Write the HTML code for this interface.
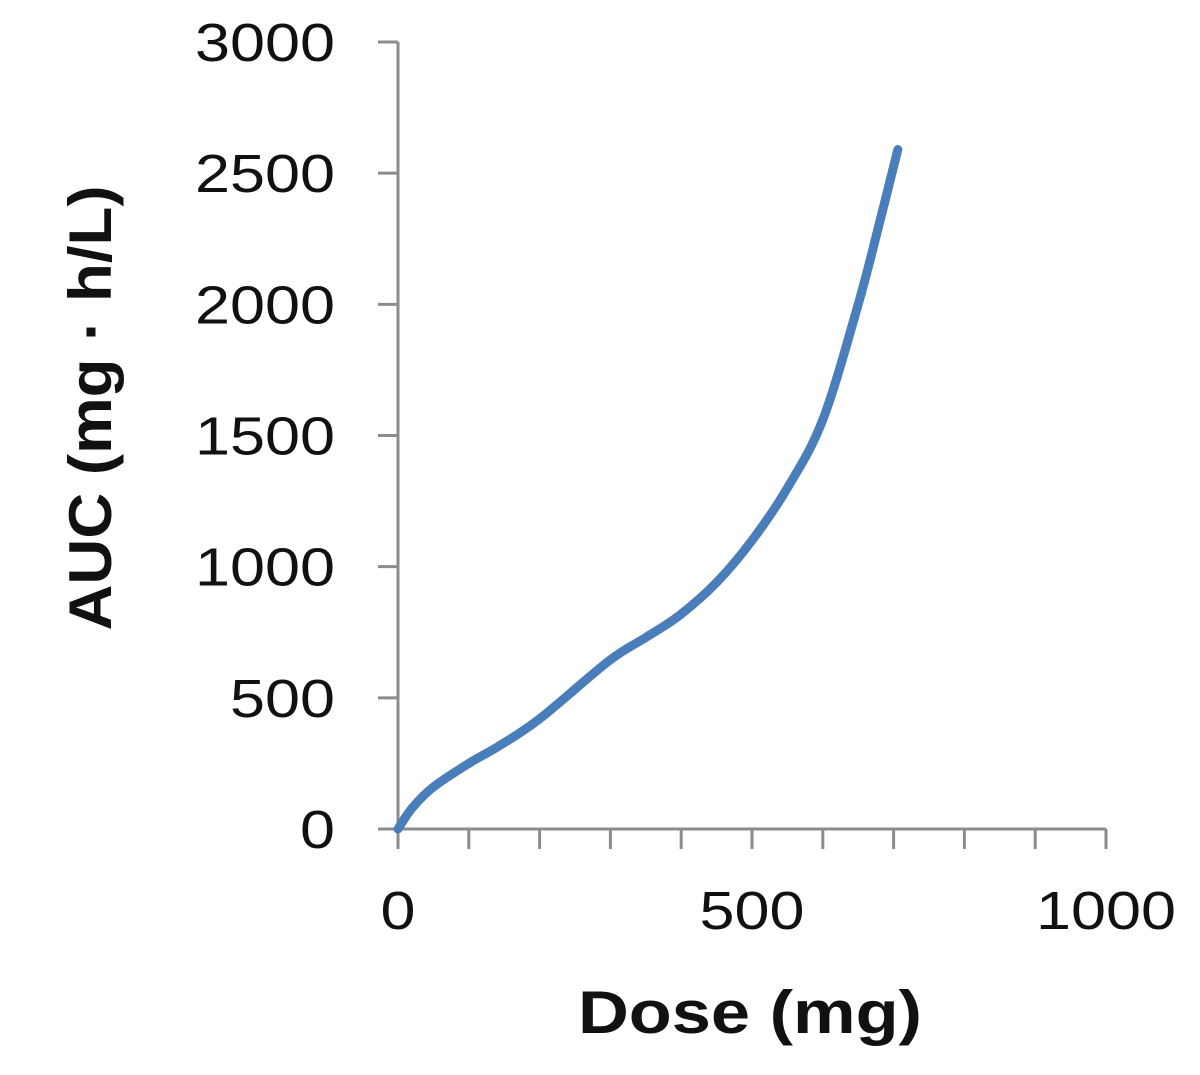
<!DOCTYPE html>
<html><head><meta charset="utf-8"><style>
body{margin:0;background:#fff;}
svg{display:block;}
text{font-family:"Liberation Sans",sans-serif;fill:#111;}
</style></head><body>
<svg id="chart" width="1200" height="1075">
<g id="axes"></g>
<g id="series"></g>
<text x="750" y="1033" text-anchor="middle" font-size="60" font-weight="bold" textLength="344" lengthAdjust="spacingAndGlyphs">Dose (mg)</text>
<text transform="translate(111,408) rotate(-90)" text-anchor="middle" font-size="60" font-weight="bold" textLength="445" lengthAdjust="spacingAndGlyphs">AUC (mg · h/L)</text>
</svg>
<script>
const doses=[0,20,50,100,143,200,298,350,397,450,500,550,600,650,680,706];
const aucs=[0,80,160,250,317,420,641,730,813,940,1100,1300,1560,2000,2310,2590];
const xTicks=[0,500,1000];
const yTicks=[0,500,1000,1500,2000,2500,3000];
const X0=398,X1=1106,Y0=829,Y1=42;
const xs=d=>X0+(d/1000)*(X1-X0);
const ys=v=>Y0-(v/3000)*(Y0-Y1);
const NS="http://www.w3.org/2000/svg";
const axes=document.getElementById('axes'),series=document.getElementById('series');
function mk(tag,attrs,parent){const e=document.createElementNS(NS,tag);for(const k in attrs)e.setAttribute(k,attrs[k]);parent.appendChild(e);return e;}
let l=mk('line',{x1:X0,y1:Y1,x2:X0,y2:Y0,stroke:'#8c8c8c','stroke-width':3},axes);


l=mk('line',{x1:X0,y1:Y0,x2:X1,y2:Y0,stroke:'#8c8c8c','stroke-width':3},axes);


yTicks.forEach(v=>{
 const t=mk('line',{x1:X0-20,y1:ys(v),x2:X0,y2:ys(v),stroke:'#8c8c8c','stroke-width':3},axes);
 
 
 const s=String(v);
 const tx=mk('text',{x:335,y:ys(v)+19,'text-anchor':'end','font-size':54,textLength:35*s.length,lengthAdjust:'spacingAndGlyphs'},axes);
 tx.textContent=s;
 
 
});
for(let d=0;d<=1000;d+=100){
 const t=mk('line',{x1:xs(d),y1:Y0,x2:xs(d),y2:Y0+20,stroke:'#8c8c8c','stroke-width':3},axes);
 
 
}
xTicks.forEach(d=>{
 const s=String(d);
 const tx=mk('text',{x:xs(d),y:929,'text-anchor':'middle','font-size':54,textLength:35*s.length,lengthAdjust:'spacingAndGlyphs'},axes);
 tx.textContent=s;
 
 
});
const pts=doses.map((d,i)=>[xs(d),ys(aucs[i])]);
let p='M'+pts[0][0]+','+pts[0][1];
for(let i=0;i<pts.length-1;i++){
 const p0=pts[Math.max(0,i-1)],p1=pts[i],p2=pts[i+1],p3=pts[Math.min(pts.length-1,i+2)];
 const c1=[p1[0]+(p2[0]-p0[0])/6,p1[1]+(p2[1]-p0[1])/6],c2=[p2[0]-(p3[0]-p1[0])/6,p2[1]-(p3[1]-p1[1])/6];
 p+=` C${c1[0]},${c1[1]} ${c2[0]},${c2[1]} ${p2[0]},${p2[1]}`;
}
const path=mk('path',{d:p,fill:'none',stroke:'#4a7ebb','stroke-width':9,'stroke-linecap':'round'},series);


</script>
</body></html>
